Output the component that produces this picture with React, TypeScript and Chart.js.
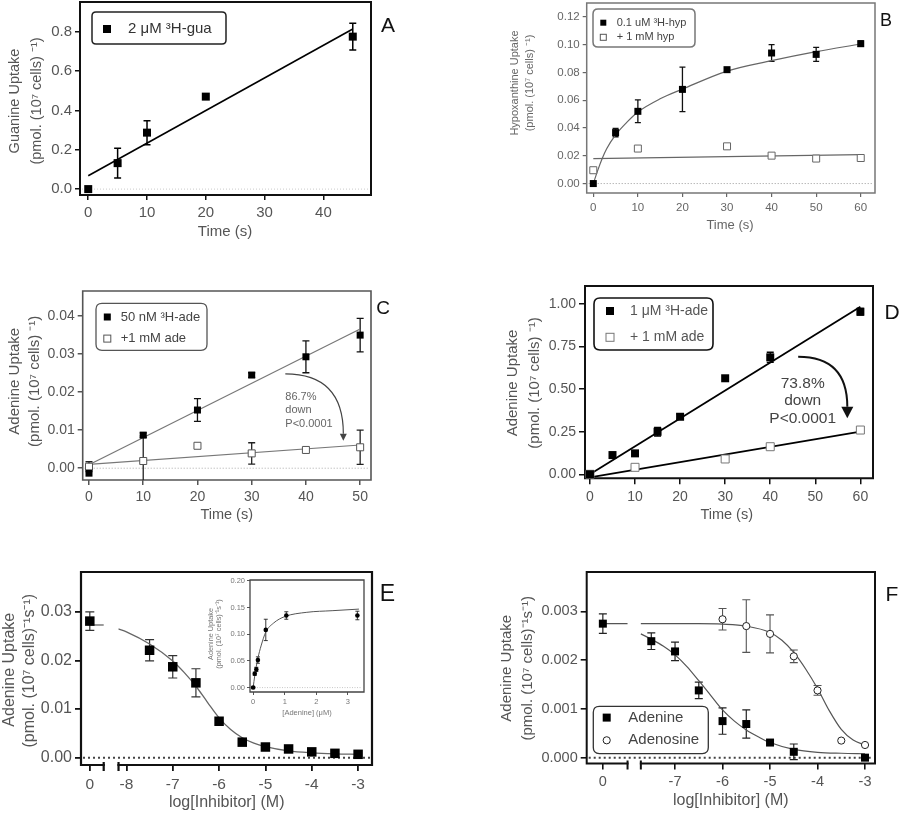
import React, { useEffect, useRef } from 'react';
import { Chart, registerables } from 'chart.js';
Chart.register(...registerables);

const FONT = '"Liberation Sans", Arial, Helvetica, sans-serif';
const PAD = 20;

// ---------------- Panel A ----------------
const A_TIME = [0, 5, 10, 20, 45];
const A_GUA = [0, 0.132, 0.287, 0.47, 0.775];
const A_GUA_ERR = [0, 0.076, 0.061, 0, 0.068];
const A_FIT_X = [0, 45];
const A_FIT_Y = [0.0675, 0.814];
const A_X_TICKS = [0, 10, 20, 30, 40];
const A_Y_TICKS = [0, 0.2, 0.4, 0.6, 0.8];

// ---------------- Panel B ----------------
const B_TIME = [0, 5, 10, 20, 30, 40, 50, 60];
const B_HYP = [0, 0.0367, 0.052, 0.0678, 0.082, 0.094, 0.093, 0.1007];
const B_HYP_ERR = [0, 0.003, 0.0082, 0.016, 0.0008, 0.006, 0.005, 0.002];
const B_CTRL_TIME = [0, 10, 30, 40, 50, 60];
const B_CTRL = [0.0096, 0.0252, 0.0268, 0.0201, 0.018, 0.0184];
const B_CURVE_X = [0, 1, 2, 3, 5, 7.5, 10, 15, 20, 30, 40, 50, 60];
const B_CURVE_Y = [0, 0.0095, 0.018, 0.025, 0.035, 0.044, 0.0515, 0.061, 0.068, 0.081, 0.0885, 0.095, 0.1005];
const B_LINE_X = [0, 60];
const B_LINE_Y = [0.018, 0.0209];
const B_X_TICKS = [0, 10, 20, 30, 40, 50, 60];
const B_Y_TICKS = [0, 0.02, 0.04, 0.06, 0.08, 0.1, 0.12];

// ---------------- Panel C ----------------
const C_TIME = [0, 10, 20, 30, 40, 50];
const C_ADE = [-0.0013, 0.0087, 0.0153, 0.0245, 0.0293, 0.035];
const C_ADE_ERR = [0, 0.0006, 0.003, 0.0006, 0.0042, 0.0044];
const C_CTRL = [0.0004, 0.0019, 0.0059, 0.0039, 0.0048, 0.0055];
const C_CTRL_ERR = [0.0013, 0.0066, 0, 0.0028, 0, 0.0045];
const C_FIT_X = [0, 50];
const C_ADE_FIT = [0.0009, 0.0366];
const C_CTRL_FIT = [0.001, 0.0061];
const C_X_TICKS = [0, 10, 20, 30, 40, 50];
const C_Y_TICKS = [0, 0.01, 0.02, 0.03, 0.04];

// ---------------- Panel D ----------------
const D_TIME = [0, 5, 10, 15, 20, 30, 40, 60];
const D_ADE = [0, 0.113, 0.123, 0.25, 0.338, 0.564, 0.687, 0.955];
const D_ADE_ERR = [0, 0, 0, 0.025, 0.015, 0, 0.03, 0.02];
const D_CTRL_TIME = [0, 10, 30, 40, 60];
const D_CTRL = [0, 0.041, 0.09, 0.162, 0.26];
const D_FIT_X = [0, 60];
const D_ADE_FIT = [0, 0.984];
const D_CTRL_FIT = [-0.018, 0.25];
const D_X_TICKS = [0, 10, 20, 30, 40, 50, 60];
const D_Y_TICKS = [0, 0.25, 0.5, 0.75, 1.0];

// ---------------- Panel E ----------------
const E_LOG = [-7.5, -7, -6.5, -6, -5.5, -5, -4.5, -4, -3.5, -3];
const E_UPTAKE = [0.0221, 0.0187, 0.0154, 0.0075, 0.0032, 0.0022, 0.0018, 0.0012, 0.0009, 0.0007];
const E_UPTAKE_ERR = [0.0022, 0.0023, 0.0029, 0, 0, 0, 0, 0, 0, 0];
const E_CONTROL = [0.0281];
const E_CONTROL_ERR = [0.0019];
const E_TOP = [0.0273, 0.0273];
const E_CURVE_X = [-8.17, -8, -7.5, -7, -6.75, -6.5, -6.25, -6, -5.75, -5.5, -5.25, -5, -4.5, -4, -3.5, -3];
const E_CURVE_Y = [0.0265, 0.0259, 0.0234, 0.0199, 0.0175, 0.0147, 0.0114, 0.0082, 0.0058, 0.0041, 0.003, 0.0023, 0.0014, 0.001, 0.0008, 0.0007];
const E_ZERO_AT = -8.79; // axis position where the "0" (no inhibitor) column sits
const E_BREAK = [-8.49, -8.17];
const E_X_TICKS = [E_ZERO_AT, -8, -7, -6, -5, -4, -3];
const E_Y_TICKS = [0, 0.01, 0.02, 0.03];

// ---------------- Inset of E ----------------
const IN_ADE = [0, 0.05, 0.1, 0.15, 0.4, 1.05, 3.3];
const IN_UPT = [0, 0.026, 0.034, 0.0515, 0.108, 0.135, 0.135];
const IN_ERR = [0.002, 0.003, 0.004, 0.006, 0.02, 0.007, 0.008];
const IN_CURVE_X = [0, 0.05, 0.1, 0.15, 0.25, 0.4, 0.65, 1, 1.7, 2.5, 3.35];
const IN_CURVE_Y = [0, 0.022, 0.04, 0.055, 0.078, 0.104, 0.121, 0.133, 0.141, 0.144, 0.147];
const IN_X_TICKS = [0, 1, 2, 3];
const IN_Y_TICKS = [0, 0.05, 0.1, 0.15, 0.2];

// ---------------- Panel F ----------------
const F_ADE_LOG = [-7.5, -7, -6.5, -6, -5.5, -5, -4.5, -3];
const F_ADE = [0.00239, 0.00218, 0.00138, 0.00075, 0.00069, 0.00031, 0.00012, 0.0];
const F_ADE_ERR = [0.00017, 0.00019, 0.00017, 0.00027, 0.00029, 0, 0.00016, 0];
const F_ADO_LOG = [-6, -5.5, -5, -4.5, -4, -3.5, -3];
const F_ADO = [0.00284, 0.0027, 0.00254, 0.00208, 0.00138, 0.00035, 0.00026];
const F_ADO_ERR = [0.00022, 0.00054, 0.00039, 0.00013, 0.0001, 0, 0];
const F_CONTROL = [0.00275];
const F_CONTROL_ERR = [0.0002];
const F_TOP = [0.00275, 0.00275];
const F_ADE_CURVE_X = [-7.72, -7.5, -7.25, -7, -6.75, -6.5, -6.25, -6, -5.75, -5.5, -5.25, -5, -4.5, -4, -3.5, -3];
const F_ADE_CURVE_Y = [0.00254, 0.00243, 0.00229, 0.00211, 0.00187, 0.00158, 0.00128, 0.00098, 0.00075, 0.00057, 0.00043, 0.00031, 0.00017, 0.00011, 0.00009, 0.00008];
const F_ADO_CURVE_X = [-7.72, -7, -6.5, -6, -5.5, -5, -4.75, -4.5, -4.25, -4, -3.75, -3.5, -3.25, -3];
const F_ADO_CURVE_Y = [0.00275, 0.00275, 0.00275, 0.00274, 0.0027, 0.00257, 0.00241, 0.00216, 0.00182, 0.00142, 0.00096, 0.00058, 0.00036, 0.00026];
const F_ZERO_AT = -8.52;
const F_BREAK = [-8.0, -7.72];
const F_X_TICKS = [F_ZERO_AT, -7, -6, -5, -4, -3];
const F_Y_TICKS = [0, 0.001, 0.002, 0.003];

const UNIT1 = '(pmol. (10\u2077 cells) \u207B\u00B9)';
const UNIT2 = '(pmol. (10\u2077 cells)\u207B\u00B9s\u207B\u00B9)';

// ---------------- helpers ----------------
const pts = (xs: number[], ys: number[]) => xs.map((x, i) => ({ x, y: ys[i] }));

function marks(data: any[], o: any) {
  return {
    type: 'scatter', data, showLine: false,
    pointStyle: o.shape || 'rect', pointRadius: o.r, pointHoverRadius: o.r, pointBorderWidth: o.bw ?? 0,
    backgroundColor: o.fill || '#000', borderColor: o.stroke || '#000', borderWidth: o.bw ?? 0,
    errors: o.errors, errorColor: o.ec || '#000', errorWidth: o.ew || 1.2, capWidth: o.cap || 3.5,
    clip: false,
  };
}
function curve(data: any[], color: string, width: number, smooth: boolean) {
  return {
    type: 'scatter', data, showLine: true, pointRadius: 0, pointHoverRadius: 0,
    borderColor: color, backgroundColor: color, borderWidth: width, fill: false,
    cubicInterpolationMode: smooth ? 'monotone' : 'default', tension: 0,
  };
}
const fixed = (d: number) => (v: number) => v.toFixed(d);
const withZero = (z: number) => (v: number) => (Math.abs(v - z) < 1e-9 ? '0' : String(v));

function drawText(ctx: any, t: any, ox: number, oy: number) {
  ctx.save();
  ctx.font = `${t.size}px ${FONT}`;
  ctx.fillStyle = t.color || '#555';
  ctx.textAlign = t.align || 'center';
  ctx.textBaseline = 'middle';
  ctx.translate(t.x - ox, t.y - oy);
  if (t.rot) ctx.rotate(-Math.PI / 2);
  ctx.fillText(t.text, 0, 0);
  ctx.restore();
}
function roundRect(ctx: any, x: number, y: number, w: number, h: number, r: number) {
  ctx.beginPath();
  ctx.moveTo(x + r, y);
  ctx.lineTo(x + w - r, y);
  ctx.quadraticCurveTo(x + w, y, x + w, y + r);
  ctx.lineTo(x + w, y + h - r);
  ctx.quadraticCurveTo(x + w, y + h, x + w - r, y + h);
  ctx.lineTo(x + r, y + h);
  ctx.quadraticCurveTo(x, y + h, x, y + h - r);
  ctx.lineTo(x, y + r);
  ctx.quadraticCurveTo(x, y, x + r, y);
  ctx.closePath();
}

function decor(p: any, ox: number, oy: number) {
  return {
    id: 'decor',
    beforeDatasetsDraw(chart: any) {
      const { ctx, chartArea: a, scales } = chart;
      ctx.save();
      if (p.zero) {
        const y = scales.y.getPixelForValue(0);
        ctx.strokeStyle = p.zero.color; ctx.lineWidth = p.zero.width; ctx.setLineDash(p.zero.dash);
        ctx.beginPath(); ctx.moveTo(a.left + 2, y); ctx.lineTo(a.right - 2, y); ctx.stroke();
        ctx.setLineDash([]);
      }
      // frame
      const f = p.frame;
      ctx.strokeStyle = f.color; ctx.lineWidth = f.width; ctx.lineCap = 'square';
      ctx.beginPath();
      ctx.moveTo(a.left, a.bottom); ctx.lineTo(a.left, a.top); ctx.lineTo(a.right, a.top); ctx.lineTo(a.right, a.bottom);
      if (f.breakAt) {
        const x1 = scales.x.getPixelForValue(f.breakAt[0]);
        const x2 = scales.x.getPixelForValue(f.breakAt[1]);
        ctx.moveTo(a.left, a.bottom); ctx.lineTo(x1, a.bottom);
        ctx.moveTo(x2, a.bottom); ctx.lineTo(a.right, a.bottom);
        ctx.stroke();
        ctx.lineCap = 'butt';
        ctx.beginPath();
        ctx.moveTo(x1, a.bottom - 3); ctx.lineTo(x1, a.bottom + 6);
        ctx.moveTo(x2, a.bottom - 3); ctx.lineTo(x2, a.bottom + 6);
        ctx.stroke();
      } else {
        ctx.moveTo(a.left, a.bottom); ctx.lineTo(a.right, a.bottom);
        ctx.stroke();
      }
      ctx.lineCap = 'butt';
      // error bars
      ctx.save();
      ctx.beginPath(); ctx.rect(a.left, a.top, a.right - a.left, a.bottom - a.top); ctx.clip();
      chart.data.datasets.forEach((ds: any) => {
        if (!ds.errors) return;
        ctx.strokeStyle = ds.errorColor; ctx.lineWidth = ds.errorWidth;
        ds.data.forEach((pt: any, j: number) => {
          const e = ds.errors[j];
          if (!e) return;
          const x = scales.x.getPixelForValue(pt.x);
          const y1 = scales.y.getPixelForValue(pt.y - e);
          const y2 = scales.y.getPixelForValue(pt.y + e);
          const c = ds.capWidth;
          ctx.beginPath();
          ctx.moveTo(x, y1); ctx.lineTo(x, y2);
          ctx.moveTo(x - c, y1); ctx.lineTo(x + c, y1);
          ctx.moveTo(x - c, y2); ctx.lineTo(x + c, y2);
          ctx.stroke();
        });
      });
      ctx.restore();
      ctx.restore();
    },
    afterDraw(chart: any) {
      const { ctx, scales } = chart;
      (p.titles || []).forEach((t: any) => drawText(ctx, t, ox, oy));
      if (p.legend) {
        const lg = p.legend;
        ctx.save();
        ctx.strokeStyle = lg.border; ctx.lineWidth = lg.width;
        roundRect(ctx, lg.box[0] - ox, lg.box[1] - oy, lg.box[2] - lg.box[0], lg.box[3] - lg.box[1], lg.radius);
        ctx.stroke();
        lg.items.forEach((it: any) => {
          const x = it.x - ox, y = it.y - oy, s = it.size;
          ctx.lineWidth = 1;
          ctx.strokeStyle = it.stroke || '#000';
          if (it.shape === 'rect') {
            if (it.filled) { ctx.fillStyle = '#000'; ctx.fillRect(x - s / 2, y - s / 2, s, s); }
            else { ctx.fillStyle = '#fff'; ctx.fillRect(x - s / 2, y - s / 2, s, s); ctx.strokeRect(x - s / 2, y - s / 2, s, s); }
          } else {
            ctx.beginPath(); ctx.arc(x, y, s / 2, 0, Math.PI * 2);
            ctx.fillStyle = it.filled ? '#000' : '#fff'; ctx.fill(); ctx.stroke();
          }
          drawText(ctx, { text: it.text, x: it.textX, y: it.y, size: lg.size, color: lg.color, align: 'left' }, ox, oy);
        });
        ctx.restore();
      }
      (p.notes || []).forEach((n: any) => {
        const x = scales.x.getPixelForValue(n.x);
        n.lines.forEach((line: string, i: number) => {
          const y = scales.y.getPixelForValue(n.y[i]);
          drawText(ctx, { text: line, x, y, size: n.size, color: n.color, align: n.align }, 0, 0);
        });
      });
      (p.arrows || []).forEach((ar: any) => {
        const P = (q: number[]) => [scales.x.getPixelForValue(q[0]), scales.y.getPixelForValue(q[1])];
        const [fx, fy] = P(ar.from), [cx, cy] = P(ar.ctrl), [tx, ty] = P(ar.to);
        const ang = Math.atan2(ty - cy, tx - cx);
        const bx = tx - ar.head * Math.cos(ang), by = ty - ar.head * Math.sin(ang);
        ctx.save();
        ctx.strokeStyle = ar.color; ctx.fillStyle = ar.color; ctx.lineWidth = ar.width;
        ctx.beginPath(); ctx.moveTo(fx, fy); ctx.quadraticCurveTo(cx, cy, bx, by); ctx.stroke();
        const px = -Math.sin(ang), py = Math.cos(ang);
        ctx.beginPath();
        ctx.moveTo(tx, ty);
        ctx.lineTo(bx + px * ar.half, by + py * ar.half);
        ctx.lineTo(bx - px * ar.half, by - py * ar.half);
        ctx.closePath(); ctx.fill();
        ctx.restore();
      });
    },
  };
}

function build(p: any) {
  const top = p.T - PAD;
  const width = Math.round(p.R + PAD - p.cl);
  const height = Math.round(p.B + p.xh - top);
  const axis = (a: any, isX: boolean) => ({
    type: 'linear', position: isX ? 'bottom' : 'left', min: a.min, max: a.max,
    afterBuildTicks: (s: any) => { s.ticks = a.ticks.map((v: number) => ({ value: v })); },
    afterFit: (s: any) => { if (isX) s.height = p.xh; else s.width = p.L - p.cl; },
    ticks: {
      autoSkip: false, maxRotation: 0, minRotation: 0, padding: a.pad ?? 3, color: p.labelColor,
      font: { family: FONT, size: a.size }, callback: (v: number) => a.fmt(v),
    },
    grid: {
      display: true, drawOnChartArea: false, drawTicks: true, tickLength: p.tickLen,
      color: p.tickColor, lineWidth: p.tickWidth,
    },
    border: { display: false },
    title: { display: false },
  });
  const config: any = {
    type: 'scatter',
    data: { datasets: p.datasets },
    options: {
      responsive: false, animation: false, events: [],
      layout: { padding: { top: PAD, right: PAD, left: 0, bottom: 0 } },
      plugins: { legend: { display: false }, tooltip: { enabled: false }, title: { display: false } },
      scales: { x: axis(p.x, true), y: axis(p.y, false) },
    },
    plugins: [decor(p, p.cl, top)],
  };
  return { rect: { left: p.cl, top, width, height }, config };
}

// ---------------- panel specs ----------------
const sq = (side: number) => side / Math.SQRT2;

const PANEL_A = {
  cl: 0, L: 80, T: 2, R: 371, B: 195, xh: 49,
  x: { min: -1.4, max: 48.1, ticks: A_X_TICKS, fmt: fixed(0), size: 15, pad: 4 },
  y: { min: -0.03, max: 0.951, ticks: A_Y_TICKS, fmt: fixed(1), size: 15 },
  labelColor: '#555', tickColor: '#111', tickLen: 5, tickWidth: 1.5,
  frame: { color: '#111', width: 2 },
  zero: { color: '#ccc', width: 1, dash: [1, 2] },
  titles: [
    { text: 'Guanine Uptake', x: 15, y: 101, size: 14.5, rot: true },
    { text: UNIT1, x: 37, y: 101, size: 14.5, rot: true },
    { text: 'Time (s)', x: 225, y: 231.7, size: 15 },
  ],
  legend: {
    box: [92, 12, 226, 44], border: '#222', width: 1.5, radius: 4, size: 15, color: '#333',
    items: [{ text: '2 \u03BCM \u00B3H-gua', shape: 'rect', filled: true, size: 8, x: 107, y: 29, textX: 128 }],
  },
  datasets: [
    marks(pts(A_TIME, A_GUA), { r: sq(8), errors: A_GUA_ERR, ec: '#000', ew: 1.5, cap: 3.5 }),
    curve(pts(A_FIT_X, A_FIT_Y), '#000', 1.6, false),
  ],
};

const PANEL_B = {
  cl: 500, L: 586.7, T: 3, R: 875, B: 192.7, xh: 42,
  x: { min: -1.48, max: 63.2, ticks: B_X_TICKS, fmt: fixed(0), size: 11.5, pad: 4 },
  y: { min: -0.0068, max: 0.13, ticks: B_Y_TICKS, fmt: fixed(2), size: 11.5 },
  labelColor: '#666', tickColor: '#666', tickLen: 4, tickWidth: 1.2,
  frame: { color: '#777', width: 1.5 },
  zero: { color: '#999', width: 1, dash: [1, 2] },
  titles: [
    { text: 'Hypoxanthine Uptake', x: 515, y: 83, size: 11, color: '#666', rot: true },
    { text: UNIT1, x: 530, y: 83, size: 11, color: '#666', rot: true },
    { text: 'Time (s)', x: 730, y: 225, size: 13, color: '#666' },
  ],
  legend: {
    box: [593, 9, 695, 47], border: '#777', width: 1.5, radius: 5, size: 11, color: '#444',
    items: [
      { text: '0.1 uM \u00B3H-hyp', shape: 'rect', filled: true, size: 6, x: 603.3, y: 22.7, textX: 616.7 },
      { text: '+ 1 mM hyp', shape: 'rect', filled: false, size: 6, x: 603.3, y: 37.3, textX: 616.7, stroke: '#555' },
    ],
  },
  datasets: [
    marks(pts(B_TIME, B_HYP), { r: sq(7), errors: B_HYP_ERR, ec: '#111', ew: 1.3, cap: 3 }),
    marks(pts(B_CTRL_TIME, B_CTRL), { r: sq(7), fill: '#fff', stroke: '#666', bw: 1 }),
    curve(pts(B_CURVE_X, B_CURVE_Y), '#666', 1.2, true),
    curve(pts(B_LINE_X, B_LINE_Y), '#666', 1.2, false),
  ],
};

const PANEL_C = {
  cl: 0, L: 82.7, T: 290.7, R: 370.7, B: 480, xh: 47,
  x: { min: -1.16, max: 52, ticks: C_X_TICKS, fmt: fixed(0), size: 14, pad: 4 },
  y: { min: -0.0031, max: 0.0466, ticks: C_Y_TICKS, fmt: fixed(2), size: 14 },
  labelColor: '#555', tickColor: '#555', tickLen: 5, tickWidth: 1.5,
  frame: { color: '#555', width: 1.6 },
  zero: { color: '#aaa', width: 1, dash: [1, 2] },
  titles: [
    { text: 'Adenine Uptake', x: 15, y: 381, size: 15, rot: true },
    { text: UNIT1, x: 35, y: 381, size: 15, rot: true },
    { text: 'Time (s)', x: 226.7, y: 515, size: 14.5 },
  ],
  legend: {
    box: [96, 303, 207, 350], border: '#555', width: 1.3, radius: 6, size: 13, color: '#444',
    items: [
      { text: '50 nM \u00B3H-ade', shape: 'rect', filled: true, size: 7, x: 107.3, y: 316.7, textX: 120.7 },
      { text: '+1 mM ade', shape: 'rect', filled: false, size: 7, x: 107.3, y: 338.3, textX: 120.7, stroke: '#555' },
    ],
  },
  notes: [{ lines: ['86.7%', 'down', 'P<0.0001'], x: 36.2, y: [0.0188, 0.0153, 0.0116], size: 11, color: '#666', align: 'left' }],
  arrows: [{ from: [36.2, 0.0248], ctrl: [46.9, 0.0248], to: [46.9, 0.0072], color: '#444', width: 1.2, head: 7, half: 3.5 }],
  datasets: [
    marks(pts(C_TIME, C_ADE), { r: sq(7), errors: C_ADE_ERR, ec: '#111', ew: 1.3, cap: 3.5 }),
    marks(pts(C_TIME, C_CTRL), { r: sq(7), fill: '#fff', stroke: '#555', bw: 1, errors: C_CTRL_ERR, ec: '#222', ew: 1.3, cap: 3.5 }),
    curve(pts(C_FIT_X, C_ADE_FIT), '#777', 1.2, false),
    curve(pts(C_FIT_X, C_CTRL_FIT), '#777', 1.2, false),
  ],
};

const PANEL_D = {
  cl: 500, L: 585, T: 286, R: 873.3, B: 478.3, xh: 48.7,
  x: { min: -1.1, max: 62.8, ticks: D_X_TICKS, fmt: fixed(0), size: 14, pad: 4 },
  y: { min: -0.0235, max: 1.106, ticks: D_Y_TICKS, fmt: fixed(2), size: 14 },
  labelColor: '#555', tickColor: '#111', tickLen: 6, tickWidth: 1.5,
  frame: { color: '#111', width: 2 },
  titles: [
    { text: 'Adenine Uptake', x: 513.3, y: 383, size: 15, rot: true },
    { text: UNIT1, x: 535, y: 383, size: 15, rot: true },
    { text: 'Time (s)', x: 726.7, y: 515, size: 14.5 },
  ],
  legend: {
    box: [594, 298, 713, 350], border: '#111', width: 1.6, radius: 6, size: 14, color: '#555',
    items: [
      { text: '1 \u03BCM \u00B3H-ade', shape: 'rect', filled: true, size: 8, x: 610, y: 311, textX: 630 },
      { text: '+ 1 mM ade', shape: 'rect', filled: false, size: 8, x: 610, y: 337.3, textX: 630, stroke: '#777' },
    ],
  },
  notes: [{ lines: ['73.8%', 'down', 'P<0.0001'], x: 47.2, y: [0.534, 0.43, 0.329], size: 15.5, color: '#444', align: 'center' }],
  arrows: [{ from: [46.2, 0.69], ctrl: [57.1, 0.69], to: [57.1, 0.329], color: '#111', width: 2, head: 11.5, half: 6 }],
  datasets: [
    marks(pts(D_TIME, D_ADE), { r: sq(8), errors: D_ADE_ERR, ec: '#000', ew: 1.3, cap: 3.5 }),
    marks(pts(D_CTRL_TIME, D_CTRL), { r: sq(8), fill: '#fff', stroke: '#777', bw: 1 }),
    curve(pts(D_FIT_X, D_ADE_FIT), '#000', 1.8, false),
    curve(pts(D_FIT_X, D_CTRL_FIT), '#000', 1.8, false),
  ],
};

const PANEL_E = {
  cl: 0, L: 81, T: 572.3, R: 371.7, B: 765.5, xh: 47,
  x: { min: -8.98, max: -2.7, ticks: E_X_TICKS, fmt: withZero(E_ZERO_AT), size: 15.5, pad: 4 },
  y: { min: -0.0015, max: 0.0382, ticks: E_Y_TICKS, fmt: fixed(2), size: 16 },
  labelColor: '#555', tickColor: '#111', tickLen: 6, tickWidth: 1.8,
  frame: { color: '#111', width: 2.2, breakAt: E_BREAK },
  zero: { color: '#444', width: 2, dash: [2, 3] },
  titles: [
    { text: 'Adenine Uptake', x: 9.5, y: 670, size: 16, rot: true },
    { text: UNIT2, x: 30, y: 671, size: 16, rot: true },
    { text: 'log[Inhibitor] (M)', x: 226.7, y: 803.3, size: 16 },
  ],
  datasets: [
    marks(pts([E_ZERO_AT], E_CONTROL), { r: sq(9.5), errors: E_CONTROL_ERR, ec: '#333', ew: 1.2, cap: 4.5 }),
    marks(pts(E_LOG, E_UPTAKE), { r: sq(9.5), errors: E_UPTAKE_ERR, ec: '#333', ew: 1.2, cap: 4.5 }),
    curve(pts([E_ZERO_AT, E_BREAK[0]], E_TOP), '#666', 1.3, false),
    curve(pts(E_CURVE_X, E_CURVE_Y), '#666', 1.3, true),
  ],
};

const PANEL_INSET = {
  cl: 200, L: 250, T: 580, R: 364, B: 691.7, xh: 27,
  x: { min: -0.1, max: 3.51, ticks: IN_X_TICKS, fmt: fixed(0), size: 7.5, pad: 2 },
  y: { min: -0.0083, max: 0.2015, ticks: IN_Y_TICKS, fmt: fixed(2), size: 7.5, pad: 2 },
  labelColor: '#777', tickColor: '#555', tickLen: 3, tickWidth: 1,
  frame: { color: '#444', width: 1.3 },
  zero: { color: '#bbb', width: 0.8, dash: [1, 1.5] },
  titles: [
    { text: 'Adenine Uptake', x: 211, y: 634, size: 7.3, color: '#777', rot: true },
    { text: UNIT2, x: 219.3, y: 634, size: 7.3, color: '#777', rot: true },
    { text: '[Adenine] (\u03BCM)', x: 307, y: 712.7, size: 7.5, color: '#777' },
  ],
  datasets: [
    marks(pts(IN_ADE, IN_UPT), { shape: 'circle', r: 2.3, errors: IN_ERR, ec: '#222', ew: 0.9, cap: 2 }),
    curve(pts(IN_CURVE_X, IN_CURVE_Y), '#555', 1, true),
  ],
};

const PANEL_F = {
  cl: 490, L: 586.7, T: 571.7, R: 875, B: 763.5, xh: 48.5,
  x: { min: -8.86, max: -2.79, ticks: F_X_TICKS, fmt: withZero(F_ZERO_AT), size: 14.5, pad: 4 },
  y: { min: -0.00012, max: 0.00381, ticks: F_Y_TICKS, fmt: fixed(3), size: 14.5 },
  labelColor: '#555', tickColor: '#111', tickLen: 6, tickWidth: 1.6,
  frame: { color: '#111', width: 2, breakAt: F_BREAK },
  zero: { color: '#444', width: 2, dash: [2, 3] },
  titles: [
    { text: 'Adenine Uptake', x: 506.5, y: 668, size: 15, rot: true },
    { text: UNIT2, x: 528, y: 668, size: 15, rot: true },
    { text: 'log[Inhibitor] (M)', x: 730.8, y: 800, size: 16 },
  ],
  legend: {
    box: [593.3, 706, 708.3, 753.3], border: '#333', width: 1.3, radius: 6, size: 15, color: '#444',
    items: [
      { text: 'Adenine', shape: 'rect', filled: true, size: 8, x: 606.7, y: 717.3, textX: 628.3 },
      { text: 'Adenosine', shape: 'circle', filled: false, size: 7.2, x: 606.7, y: 740, textX: 628.3, stroke: '#222' },
    ],
  },
  datasets: [
    marks(pts([F_ZERO_AT], F_CONTROL), { r: sq(8), errors: F_CONTROL_ERR, ec: '#222', ew: 1.2, cap: 4 }),
    marks(pts(F_ADE_LOG, F_ADE), { r: sq(8), errors: F_ADE_ERR, ec: '#222', ew: 1.2, cap: 4 }),
    marks(pts(F_ADO_LOG, F_ADO), { shape: 'circle', r: 3.6, fill: '#fff', stroke: '#222', bw: 1, errors: F_ADO_ERR, ec: '#555', ew: 1.1, cap: 4 }),
    curve(pts([F_ZERO_AT, F_BREAK[0]], F_TOP), '#555', 1.2, false),
    curve(pts(F_ADE_CURVE_X, F_ADE_CURVE_Y), '#555', 1.2, true),
    curve(pts(F_ADO_CURVE_X, F_ADO_CURVE_Y), '#555', 1.2, true),
  ],
};

const PANELS = [PANEL_A, PANEL_B, PANEL_C, PANEL_D, PANEL_E, PANEL_INSET, PANEL_F];

const LETTERS = [
  { t: 'A', x: 388, y: 24, size: 21 },
  { t: 'B', x: 886, y: 20, size: 18 },
  { t: 'C', x: 383, y: 307, size: 19 },
  { t: 'D', x: 892, y: 311, size: 21 },
  { t: 'E', x: 387.5, y: 593, size: 23 },
  { t: 'F', x: 892, y: 593, size: 21 },
];

function ChartBox({ spec }: { spec: any }) {
  const ref = useRef<HTMLCanvasElement>(null);
  const { rect, config } = build(spec);
  useEffect(() => {
    const chart = new Chart(ref.current as HTMLCanvasElement, config);
    return () => chart.destroy();
  }, []);
  return (
    <canvas
      ref={ref}
      width={rect.width}
      height={rect.height}
      style={{ position: 'absolute', left: rect.left, top: rect.top, width: rect.width, height: rect.height }}
    />
  );
}

export default function App() {
  return (
    <div style={{ position: 'absolute', left: 0, top: 0, width: 900, height: 813, overflow: 'hidden', background: '#fff', fontFamily: FONT }}>
      {PANELS.map((p, i) => <ChartBox key={i} spec={p} />)}
      {LETTERS.map((l) => (
        <div
          key={l.t}
          style={{ position: 'absolute', left: l.x, top: l.y, transform: 'translate(-50%, -50%)', fontSize: l.size, lineHeight: 1, color: '#111', whiteSpace: 'nowrap' }}
        >
          {l.t}
        </div>
      ))}
    </div>
  );
}
